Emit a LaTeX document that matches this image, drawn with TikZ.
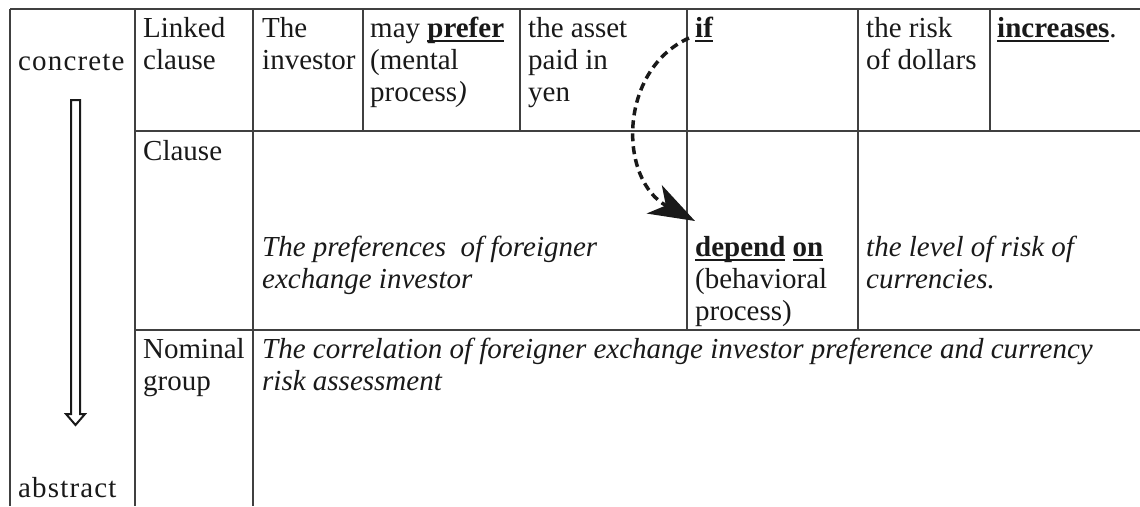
\documentclass[tikz,border=0pt]{standalone}
\usepackage{fontspec}
\setmainfont{Liberation Serif}
\usetikzlibrary{arrows.meta}
\newcommand\ulb[1]{\setbox0\hbox{\textbf{#1}}\rlap{\rule[-4.5pt]{\wd0}{2pt}}\box0\relax}
\begin{document}
\begin{tikzpicture}[x=1pt,y=-1pt,
  grid/.style={draw=black!75, line width=1.3pt},
  cell/.style={anchor=north west, inner sep=0pt, align=left, text=black!90, font=\fontsize{29}{32}\selectfont},
  itcell/.style={cell, font=\fontsize{29}{32}\selectfont\itshape},
  widecell/.style={cell, font=\fontsize{29}{32}\selectfont\addfontfeature{LetterSpace=4}},
  hollowarrow/.style={draw=black!90, line width=2pt, line join=miter},
  linkarrow/.style={draw=black!90, line width=3.5pt, dash pattern=on 8pt off 5pt, -{Stealth[length=46pt,width=32pt,inset=13pt]}}
]
\useasboundingbox (0,0) rectangle (1140,506);
% grid
\draw[grid] (10,9) -- (1140,9);
\draw[grid] (135,131) -- (1140,131);
\draw[grid] (135,330) -- (1140,330);
\draw[grid] (10,9) -- (10,506);
\draw[grid] (135,9) -- (135,506);
\draw[grid] (253,9) -- (253,506);
\draw[grid] (363,9) -- (363,131);
\draw[grid] (520,9) -- (520,131);
\draw[grid] (687,9) -- (687,330);
\draw[grid] (858,9) -- (858,330);
\draw[grid] (990,9) -- (990,131);
% left column
\node[widecell] (conc) at (18,47.6) {\strut concrete};
\node[widecell, anchor=base west] (abst) at (18,497) {abstract};
\draw[hollowarrow] (71,100) -- (80,100) -- (80,414) -- (85,414) -- (75.5,425) -- (66,414) -- (71,414) -- cycle;
% row 1
\node[cell] (l1) at (143,14.6) {\strut Linked\\clause};
\node[cell] (inv) at (262,14.6) {\strut The\\investor};
\node[cell] (pref) at (370,14.6) {\strut may \ulb{prefer}\\(mental\\process\textit{)}};
\node[cell] (asset) at (528,14.6) {\strut the asset\\paid in\\yen};
\node[cell] (if) at (695,14.6) {\strut\ulb{if}};
\node[cell] (risk) at (866,14.6) {\strut the risk\\of dollars};
\node[cell] (incr) at (997,14.6) {\strut\ulb{increases}.};
% row 2
\node[cell] (cl) at (143,137.6) {\strut Clause};
\node[itcell] (prefs) at (262,233.6) {\strut The preferences\ \ of foreigner\\exchange investor};
\node[cell] (dep) at (695,233.6) {\strut\ulb{depend} \ulb{on}\\(behavioral\\process)};
\node[itcell] (lvl) at (866,233.6) {\strut the level of risk of\\currencies.};
% row 3
\node[cell] (nom) at (143,335.6) {\strut Nominal\\group};
\node[itcell] (corr) at (262,335.6) {\strut The correlation of foreigner exchange investor preference and currency\\risk assessment};
% link arrow
\coordinate (ifstart) at (689,38);
\coordinate (depend) at (695,221);
\draw[linkarrow] (ifstart) .. controls (618,70) and (618,180) .. (depend);
\end{tikzpicture}
\end{document}
